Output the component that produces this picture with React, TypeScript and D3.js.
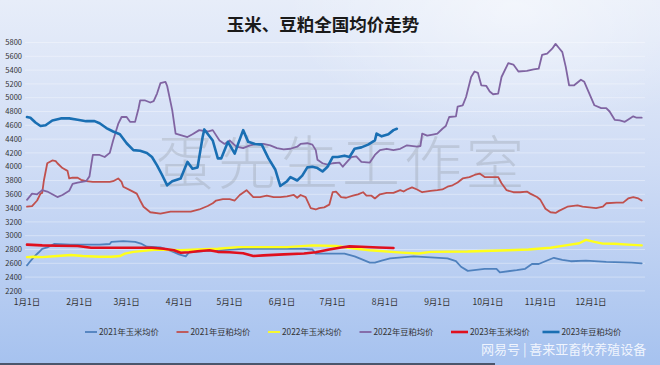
import React from "react";
import * as d3 from "d3";

// ---- data: [day of year (0 = 1月1日), price] ----
const corn2021: [number, number][] = [
  [0, 2570], [1, 2600], [4, 2690], [7, 2760], [9, 2810], [12, 2830], [16, 2880], [26, 2870], [33, 2870],
  [43, 2870], [49, 2880], [50, 2910], [57, 2920], [64, 2910], [68, 2880], [71, 2840], [79, 2830], [84, 2790],
  [87, 2760], [90, 2730], [94, 2700], [96, 2760], [106, 2780], [115, 2790], [128, 2810], [164, 2810], [169, 2800],
  [171, 2740], [188, 2740], [194, 2700], [198, 2660], [203, 2610], [206, 2610], [210, 2640], [215, 2670],
  [229, 2700], [244, 2680], [249, 2670], [254, 2630], [257, 2550], [261, 2490], [271, 2520], [278, 2520],
  [280, 2470], [290, 2500], [295, 2520], [299, 2590], [303, 2590], [308, 2640], [312, 2680], [317, 2650],
  [322, 2630], [331, 2640], [343, 2620], [358, 2610], [364, 2600],
];

const soy2021: [number, number][] = [
  [0, 3420], [3, 3430], [6, 3510], [8, 3610], [9, 3620], [10, 3800], [12, 4050], [15, 4090], [17, 4080],
  [18, 4050], [21, 3980], [24, 3940], [25, 3830], [27, 3840], [30, 3840], [32, 3810], [35, 3790], [39, 3780],
  [49, 3780], [51, 3790], [54, 3830], [56, 3780], [57, 3710], [61, 3660], [65, 3610], [67, 3510], [69, 3420],
  [73, 3340], [79, 3320], [85, 3350], [91, 3350], [97, 3350], [102, 3380], [107, 3430], [110, 3470], [112, 3510],
  [116, 3530], [120, 3530], [123, 3510], [126, 3590], [130, 3660], [132, 3610], [134, 3560], [138, 3560],
  [142, 3580], [146, 3560], [150, 3560], [154, 3570], [158, 3590], [160, 3550], [162, 3590], [165, 3560],
  [168, 3400], [171, 3380], [173, 3400], [176, 3410], [179, 3450], [181, 3630], [183, 3640], [186, 3560],
  [189, 3550], [193, 3580], [196, 3600], [199, 3630], [201, 3580], [204, 3580], [206, 3540], [209, 3600],
  [213, 3620], [217, 3620], [221, 3660], [223, 3640], [225, 3670], [228, 3700], [231, 3670], [234, 3630],
  [239, 3650], [243, 3660], [246, 3670], [249, 3710], [252, 3730], [255, 3770], [258, 3830], [262, 3850],
  [265, 3880], [268, 3900], [271, 3850], [275, 3850], [279, 3850], [281, 3760], [284, 3660], [288, 3630],
  [292, 3630], [296, 3640], [298, 3610], [302, 3560], [304, 3520], [307, 3390], [310, 3340], [313, 3330],
  [315, 3360], [320, 3420], [326, 3440], [329, 3420], [333, 3410], [337, 3400], [341, 3420], [343, 3470],
  [349, 3480], [353, 3480], [356, 3540], [359, 3560], [362, 3540], [364, 3510],
];

const corn2022: [number, number][] = [
  [0, 2690], [4, 2695], [9, 2690], [18, 2705], [26, 2720], [33, 2705], [43, 2695], [50, 2695], [55, 2705],
  [58, 2740], [63, 2765], [69, 2780], [77, 2800], [91, 2790], [101, 2800], [113, 2810], [125, 2835], [154, 2835],
  [169, 2860], [183, 2850], [195, 2810], [203, 2790], [222, 2755], [232, 2742], [239, 2766], [261, 2770],
  [285, 2790], [297, 2800], [310, 2825], [319, 2860], [327, 2890], [331, 2940], [336, 2910], [341, 2885],
  [348, 2884], [356, 2870], [364, 2860],
];

const soy2022: [number, number][] = [
  [0, 3520], [3, 3610], [6, 3600], [9, 3660], [12, 3640], [18, 3560], [21, 3590], [25, 3650], [27, 3750],
  [30, 3770], [35, 3790], [37, 3860], [38, 4020], [39, 4170], [43, 4170], [46, 4140], [49, 4200], [51, 4380],
  [54, 4620], [56, 4720], [59, 4720], [61, 4650], [64, 4650], [66, 4840], [67, 4960], [70, 4960], [73, 4930],
  [75, 4950], [77, 5060], [79, 5210], [82, 5230], [83, 5170], [86, 4820], [88, 4480], [95, 4430], [98, 4470],
  [102, 4530], [107, 4510], [110, 4530], [114, 4380], [117, 4330], [120, 4380], [124, 4290], [128, 4270],
  [132, 4310], [136, 4330], [140, 4330], [144, 4310], [148, 4270], [152, 4250], [156, 4260], [160, 4290],
  [162, 4330], [166, 4340], [169, 4320], [171, 4240], [172, 4100], [175, 4050], [178, 4030], [181, 4050],
  [185, 4060], [187, 4000], [192, 4140], [195, 4150], [198, 4070], [203, 4060], [206, 4170], [209, 4240],
  [213, 4260], [217, 4240], [221, 4260], [225, 4310], [231, 4290], [233, 4300], [234, 4480], [237, 4450],
  [241, 4470], [243, 4480], [246, 4550], [248, 4590], [250, 4720], [254, 4730], [255, 4870], [258, 4890],
  [260, 5010], [263, 5300], [265, 5380], [267, 5360], [269, 5180], [272, 5170], [274, 5090], [276, 5050],
  [279, 5060], [281, 5300], [285, 5500], [288, 5480], [291, 5380], [296, 5390], [300, 5410], [303, 5420],
  [305, 5620], [308, 5640], [311, 5710], [313, 5780], [315, 5720], [317, 5660], [319, 5450], [321, 5180],
  [324, 5180], [328, 5260], [330, 5230], [333, 5060], [336, 4890], [340, 4850], [343, 4850], [345, 4800],
  [348, 4680], [351, 4670], [354, 4650], [357, 4700], [359, 4730], [361, 4710], [364, 4710],
];

const corn2023: [number, number][] = [
  [0, 2870], [9, 2860], [18, 2855], [30, 2850], [38, 2826], [74, 2826], [81, 2810], [87, 2790], [91, 2752],
  [96, 2760], [101, 2775], [108, 2790], [113, 2766], [120, 2760], [128, 2745], [134, 2705], [140, 2715],
  [152, 2730], [164, 2742], [171, 2760], [179, 2800], [186, 2830], [191, 2845], [198, 2840], [208, 2830],
  [217, 2822],
];

const soy2023: [number, number][] = [
  [0, 4720], [2, 4710], [5, 4640], [8, 4590], [11, 4600], [15, 4670], [20, 4700], [25, 4700], [30, 4680],
  [35, 4660], [40, 4660], [43, 4630], [47, 4560], [51, 4510], [55, 4470], [59, 4340], [63, 4240], [67, 4230],
  [71, 4200], [74, 4140], [77, 4020], [80, 3880], [83, 3730], [86, 3790], [91, 3830], [95, 4070], [98, 3970],
  [101, 3990], [104, 4430], [105, 4540], [110, 4380], [113, 4120], [115, 4120], [119, 4360], [123, 4190],
  [125, 4330], [128, 4530], [131, 4360], [135, 4330], [139, 4320], [143, 4120], [147, 3960], [150, 3720],
  [154, 3790], [156, 3850], [160, 3800], [163, 3870], [166, 3990], [169, 4000], [172, 3980], [175, 3930],
  [178, 4000], [181, 4140], [184, 4140], [188, 4160], [191, 4140], [194, 4260], [198, 4280], [202, 4320],
  [206, 4380], [207, 4480], [210, 4440], [214, 4470], [217, 4530], [219, 4550],
];

const seriesNames = ["2021年玉米均价", "2021年豆粕均价", "2022年玉米均价", "2022年豆粕均价", "2023年玉米均价", "2023年豆粕均价"];
const seriesData = [corn2021, soy2021, corn2022, soy2022, corn2023, soy2023];
const seriesColors = ["#4f81bd", "#c0504d", "#ffff1a", "#8064a2", "#e0101e", "#1a6fb3"];
const seriesWidths = [1.8, 1.8, 2.4, 1.8, 2.6, 2.6];

const yTicks = [2200, 2400, 2600, 2800, 3000, 3200, 3400, 3600, 3800, 4000, 4200, 4400, 4600, 4800, 5000, 5200, 5400, 5600, 5800];
const monthDays = [0, 31, 59, 90, 120, 151, 181, 212, 243, 273, 304, 334];
const monthLabels = ["1月1日", "2月1日", "3月1日", "4月1日", "5月1日", "6月1日", "7月1日", "8月1日", "9月1日", "10月1日", "11月1日", "12月1日"];

const title = "玉米、豆粕全国均价走势";
const watermark = "蛋先生工作室";
const credit = "网易号 | 喜来亚畜牧养殖设备";

const W = 660;
const H = 365;

export default function App() {
  const x = d3.scaleLinear().domain([0, 364]).range([27, 641.7]);
  const y = d3.scaleLinear().domain([2200, 5800]).range([290.9, 42.5]);
  const line = d3
    .line<[number, number]>()
    .x((d) => x(d[0]))
    .y((d) => y(d[1]));

  const font = "'Noto Sans CJK SC', 'Noto Sans', sans-serif";

  return (
    <svg
      width={W}
      height={H}
      viewBox={`0 0 ${W} ${H}`}
      style={{ position: "absolute", left: 0, top: 0, display: "block" }}
      fontFamily={font}
    >
      <defs>
        <linearGradient id="bg" x1="0" y1="0" x2="0" y2="1">
          <stop offset="0%" stopColor="#e7edf9" />
          <stop offset="45%" stopColor="#cfdcf5" />
          <stop offset="100%" stopColor="#a6c2ef" />
        </linearGradient>
        <radialGradient id="glare" cx="0.78" cy="0.02" r="0.35">
          <stop offset="0%" stopColor="#ffffff" stopOpacity="0.5" />
          <stop offset="100%" stopColor="#ffffff" stopOpacity="0" />
        </radialGradient>
      </defs>
      <rect x={0} y={0} width={W} height={H} fill="url(#bg)" />
      <rect x={0} y={0} width={W} height={H} fill="url(#glare)" />

      {/* gridlines */}
      {yTicks.map((t) => (
        <line key={t} x1={25} x2={645} y1={y(t)} y2={y(t)} stroke="#ffffff" strokeOpacity={0.35} strokeWidth={1} />
      ))}

      {/* title */}
      <text x={323} y={31} textAnchor="middle" fontSize={17.5} fontWeight={700} fill="#1a1a1a">
        {title}
      </text>

      {/* y tick labels */}
      {yTicks.map((t) => (
        <text key={t} x={22} y={y(t)} dy="0.35em" textAnchor="end" fontSize={7.5} fill="#333">
          {t}
        </text>
      ))}

      {/* x tick labels */}
      {monthDays.map((d, i) => (
        <text key={d} x={x(d)} y={305} textAnchor="middle" fontSize={8.5} fill="#333">
          {monthLabels[i]}
        </text>
      ))}

      {/* watermark */}
      <text x={342} y={184} textAnchor="middle" fontSize={58} letterSpacing={4} fontWeight={300} fill="#8f949c" fillOpacity={0.3}>
        {watermark}
      </text>

      {/* series */}
      {seriesData.map((s, i) => (
        <path
          key={seriesNames[i]}
          d={line(s) || ""}
          fill="none"
          stroke={seriesColors[i]}
          strokeWidth={seriesWidths[i]}
          strokeLinejoin="round"
          strokeLinecap="round"
        />
      ))}

      {/* legend */}
      {seriesNames.map((n, i) => {
        const lx = 85 + i * 91.5;
        const len = i >= 4 ? 17 : 12;
        return (
          <g key={n}>
            <line x1={lx} x2={lx + len} y1={332} y2={332} stroke={seriesColors[i]} strokeWidth={i >= 4 ? 2.6 : 1.8} />
            <text x={lx + len + 2} y={332} dy="0.35em" fontSize={8.3} fill="#333">
              {n}
            </text>
          </g>
        );
      })}

      {/* credit */}
      <text x={481} y={354} fontSize={13} fill="#f5f8fe" fillOpacity={0.95}>
        {credit}
      </text>
      <line x1={0} x2={495} y1={364} y2={364} stroke="#2c3240" strokeWidth={1.5} />
    </svg>
  );
}
